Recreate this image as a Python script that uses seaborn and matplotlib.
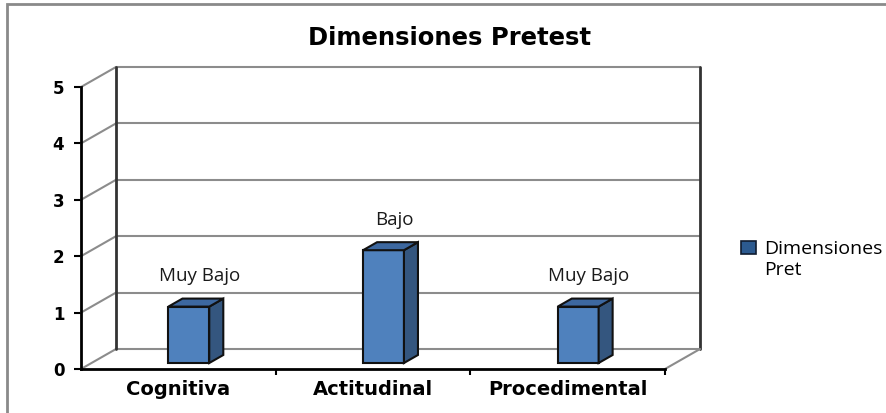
import matplotlib
matplotlib.use('Agg')
import matplotlib.pyplot as plt
import seaborn as sns
from matplotlib.patches import Polygon, Rectangle, Patch

# data
categories = ['Cognitiva', 'Actitudinal', 'Procedimental']
values = [1, 2, 1]
levels = ['Muy Bajo', 'Bajo', 'Muy Bajo']
yticks = [0, 1, 2, 3, 4, 5]
series_name = 'Dimensiones\nPret'

# colours
FRONT = '#4F81BD'
SIDE = '#34567F'
TOP = '#3D68A0'
EDGE = '#111111'
GRID = '#8C8C8C'

# fake 3d depth of the box (data units)
DX = 0.18
DY = 0.355

sns.set_style('white')
plt.rcParams['font.family'] = ['DejaVu Sans']
plt.rcParams['text.color'] = 'black'
plt.rcParams['xtick.color'] = 'black'
plt.rcParams['ytick.color'] = 'black'

fig = plt.figure(figsize=(8.87, 4.13), dpi=100)
ax = fig.add_axes([81 / 887, 44 / 413, 584 / 887, 282 / 413])
ax.set_xlim(-0.5, 2.5)
ax.set_ylim(0, 5)
ax.patch.set_alpha(0)

# back wall + side wall grid
x0, x1 = -0.5, 2.5
for v in yticks:
    ax.plot([x0 + DX, x1 + DX], [v + DY, v + DY], color=GRID, lw=1.5, zorder=1, clip_on=False)
    ax.plot([x0, x0 + DX], [v, v + DY], color=GRID, lw=1.5, zorder=1, clip_on=False)
ax.plot([x0 + DX, x0 + DX], [DY, 5 + DY], color='#333333', lw=2, zorder=1, clip_on=False)
ax.plot([x1 + DX, x1 + DX], [DY, 5 + DY], color='#333333', lw=2, zorder=1, clip_on=False)
ax.plot([x1, x1 + DX], [0, DY], color=GRID, lw=1.5, zorder=1, clip_on=False)

# bars
sns.barplot(x=categories, y=values, width=0.21, color=FRONT, edgecolor=EDGE,
            linewidth=1.5, saturation=1, ax=ax, zorder=3)

d0, d1 = 0.3, 0.7
for p, lab in zip(ax.patches, levels):
    bx, w, h = p.get_x(), p.get_width(), p.get_height()
    p.set_x(bx + d0 * DX)
    p.set_y(d0 * DY)
    fx0, fx1 = bx + d0 * DX, bx + w + d0 * DX
    fy0, fy1 = d0 * DY, h + d0 * DY
    ddx, ddy = (d1 - d0) * DX, (d1 - d0) * DY
    side = Polygon([(fx1, fy0), (fx1 + ddx, fy0 + ddy), (fx1 + ddx, fy1 + ddy), (fx1, fy1)],
                   closed=True, facecolor=SIDE, edgecolor=EDGE, lw=1.5, zorder=3, clip_on=False)
    top = Polygon([(fx0, fy1), (fx0 + ddx, fy1 + ddy), (fx1 + ddx, fy1 + ddy), (fx1, fy1)],
                  closed=True, facecolor=TOP, edgecolor=EDGE, lw=1.5, zorder=3, clip_on=False)
    ax.add_patch(side)
    ax.add_patch(top)
    ax.text(bx + w / 2 + 0.11, h + 0.65, lab, ha='center', va='center',
            fontsize=13.5, family='Open Sans', color='#1a1a1a')

# axes styling
for s in ['top', 'right']:
    ax.spines[s].set_visible(False)
for s in ['left', 'bottom']:
    ax.spines[s].set_color('black')
    ax.spines[s].set_linewidth(2)
ax.set_yticks(yticks)
ax.set_yticklabels([str(t) for t in yticks], fontsize=12, fontweight='bold')
ax.tick_params(axis='y', direction='out', length=5, width=1.5, pad=7, left=True)
ax.set_xticks(range(len(categories)))
ax.set_xticklabels(categories, fontsize=14, fontweight='bold')
ax.set_xticks([0.5, 1.5, 2.5], minor=True)
ax.tick_params(axis='x', which='major', length=0, pad=8)
ax.tick_params(axis='x', which='minor', direction='out', length=4, width=1.5, bottom=True)
ax.set_xlabel('')
ax.set_ylabel('')

fig.text(450 / 887, 1 - 38 / 413, 'Dimensiones Pretest', ha='center', va='center',
         fontsize=17.5, fontweight='bold')

leg = fig.legend(handles=[Patch(facecolor='#2C5A8F', edgecolor='#101C30', lw=1.2)], labels=[series_name],
                 loc='upper left', bbox_to_anchor=(724 / 887, 1 - 223 / 413), frameon=False,
                 handlelength=0.75, handleheight=0.65, handletextpad=0.4,
                 prop={'family': 'Open Sans', 'size': 14}, labelspacing=0)
# put the legend swatch next to the first line of the label
h = leg.legend_handles[0]
h.set_y(h.get_y() + 9)

# outer chart border
fig.patches.append(Rectangle((7.5 / 887, -0.05), 1.0, 1 - 4.5 / 413 + 0.05, transform=fig.transFigure,
                             fill=False, edgecolor='#8A8A8A', lw=2))

fig.savefig('out.png', dpi=100)
